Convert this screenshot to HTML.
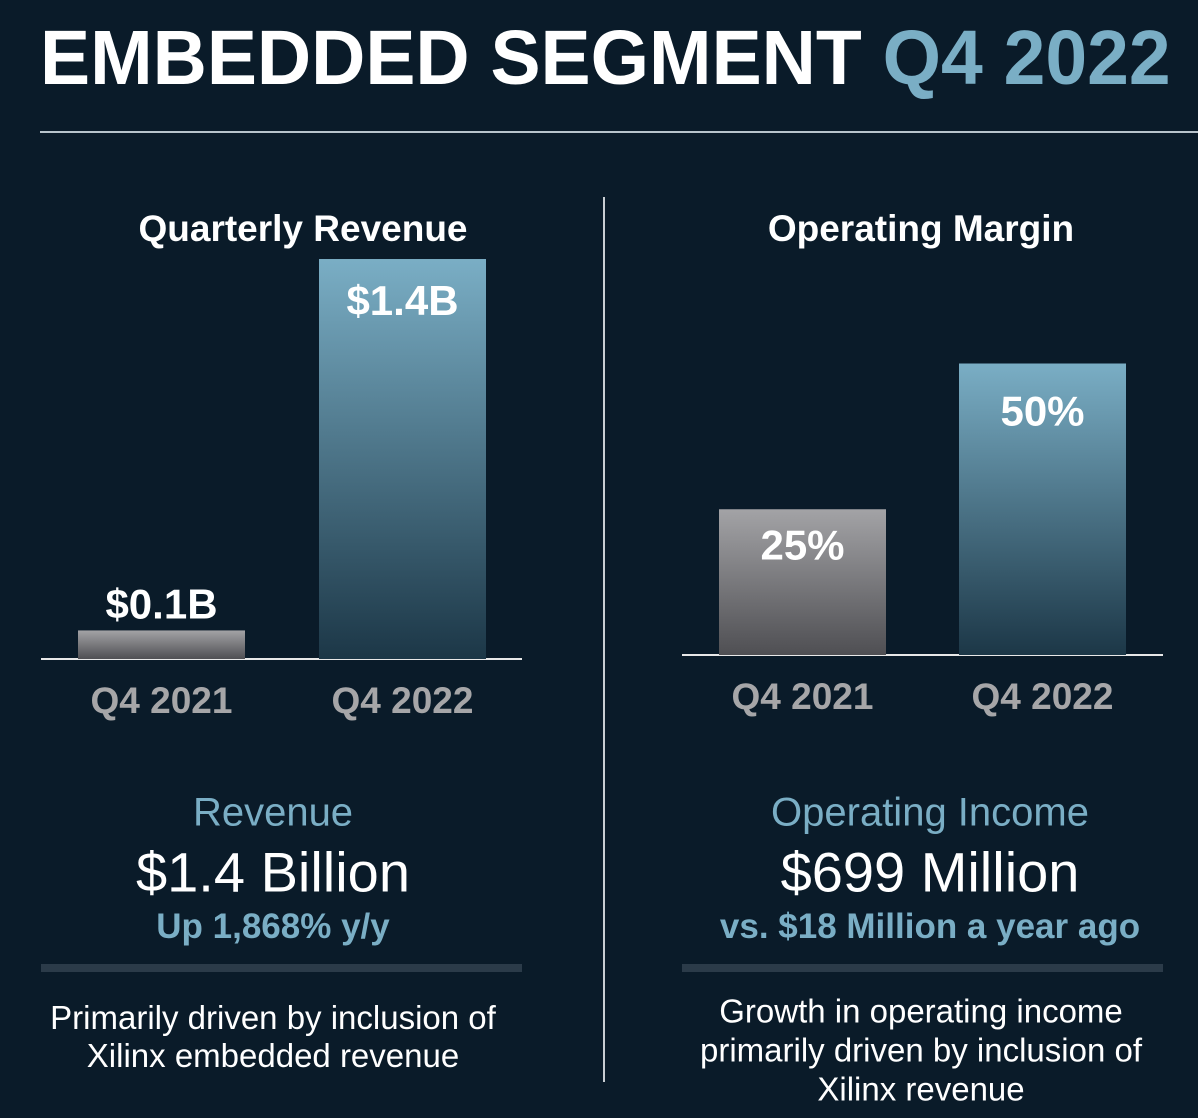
<!DOCTYPE html>
<html><head><meta charset="utf-8"><style>
*{margin:0;padding:0;box-sizing:border-box}
body{width:1198px;height:1118px;background:#0a1b29;font-family:"Liberation Sans",Arial,sans-serif;position:relative;overflow:hidden;color:#fff}
.t{position:absolute;white-space:nowrap;transform:translate(-50%,-50%)}
</style></head><body>
<div style="position:absolute;left:40px;top:14px;font-size:77px;font-weight:bold;line-height:88px;white-space:nowrap;transform:scaleX(0.975);transform-origin:0 0">EMBEDDED SEGMENT <span style="color:#7aaec5">Q4 2022</span></div>
<div style="position:absolute;left:40px;top:131px;width:1158px;height:2px;background:#b8c4cc"></div>
<div style="position:absolute;left:603px;top:197px;width:2px;height:885px;background:#c8cdd2"></div>

<svg id="chart" width="1198" height="1118" style="position:absolute;left:0;top:0">
<defs>
<linearGradient id="gb" x1="0" y1="0" x2="0" y2="1"><stop offset="0" stop-color="#7aaec5"/><stop offset="1" stop-color="#1c3747"/></linearGradient>
<linearGradient id="gg" x1="0" y1="0" x2="0" y2="1"><stop offset="0" stop-color="#a3a3a6"/><stop offset="1" stop-color="#4f4f53"/></linearGradient>
</defs>
</svg>

<div class="t" style="left:303px;top:229px;font-size:37px;font-weight:bold">Quarterly Revenue</div>
<div class="t" style="left:921px;top:229px;font-size:37px;font-weight:bold">Operating Margin</div>

<div class="t" style="left:273px;top:813px;font-size:40px;color:#7aaec5">Revenue</div>
<div class="t" style="left:273px;top:872px;font-size:56px">$1.4 Billion</div>
<div class="t" style="left:273px;top:927px;font-size:35px;font-weight:bold;color:#7aaec5">Up 1,868% y/y</div>
<div style="position:absolute;left:41px;top:964px;width:481px;height:8px;background:#2b3b49"></div>
<div class="t" style="left:273px;top:1037px;font-size:33px;line-height:38px;text-align:center">Primarily driven by inclusion of<br>Xilinx embedded revenue</div>

<div class="t" style="left:930px;top:813px;font-size:40px;color:#7aaec5">Operating Income</div>
<div class="t" style="left:930px;top:872px;font-size:56px">$699 Million</div>
<div class="t" style="left:930px;top:927px;font-size:35px;font-weight:bold;color:#7aaec5">vs. $18 Million a year ago</div>
<div style="position:absolute;left:682px;top:964px;width:481px;height:8px;background:#2b3b49"></div>
<div class="t" style="left:921px;top:1050px;font-size:33px;line-height:39px;text-align:center">Growth in operating income<br>primarily driven by inclusion of<br>Xilinx revenue</div>

<script>
const categories=["Q4 2021","Q4 2022"];
const revenueValues=[0.1,1.4];
const revenueLabels=["$0.1B","$1.4B"];
const marginValues=[25,50];
const marginLabels=["25%","50%"];
const svg=document.getElementById('chart');
const NS='http://www.w3.org/2000/svg';
function mk(tag,attrs){const e=document.createElementNS(NS,tag);for(const k in attrs)e.setAttribute(k,attrs[k]);svg.appendChild(e);return e;}
function drawChart(cfg){
  const y=v=>cfg.base-v*cfg.scale;
  const ax=mk('line',{x1:cfg.ax0,x2:cfg.ax1,y1:cfg.base,y2:cfg.base,stroke:'#e8e8e8','stroke-width':2});
  
  
  cfg.values.forEach((v,i)=>{
    const x=cfg.x0+i*cfg.step;
    const r=mk('rect',{x:x,y:y(v),width:cfg.bw,height:cfg.base-y(v),fill:i==0?'url(#gg)':'url(#gb)'});
    
    
    const inside=(cfg.base-y(v))>60;
    const ly=inside?y(v)+cfg.inOff[i]:y(v)-12;
    const t=mk('text',{x:x+cfg.bw/2,y:ly,'text-anchor':'middle',fill:'#fff','font-size':42,'font-weight':'bold','font-family':'Liberation Sans, sans-serif'});
    t.textContent=cfg.labels[i];
    
    
    const c=mk('text',{x:x+cfg.bw/2,y:cfg.base+54,'text-anchor':'middle',fill:'#a6a6a8','font-size':37,'font-weight':'bold','font-family':'Liberation Sans, sans-serif'});
    c.textContent=categories[i];
    
    
  });
}
drawChart({name:'revenue',values:revenueValues,labels:revenueLabels,base:659,scale:285.7,x0:78,step:241,bw:167,ax0:41,ax1:522,inOff:[40,56]});
drawChart({name:'margin',values:marginValues,labels:marginLabels,base:655,scale:5.83,x0:719,step:240,bw:167,ax0:682,ax1:1163,inOff:[50,62]});
</script>
</body></html>
